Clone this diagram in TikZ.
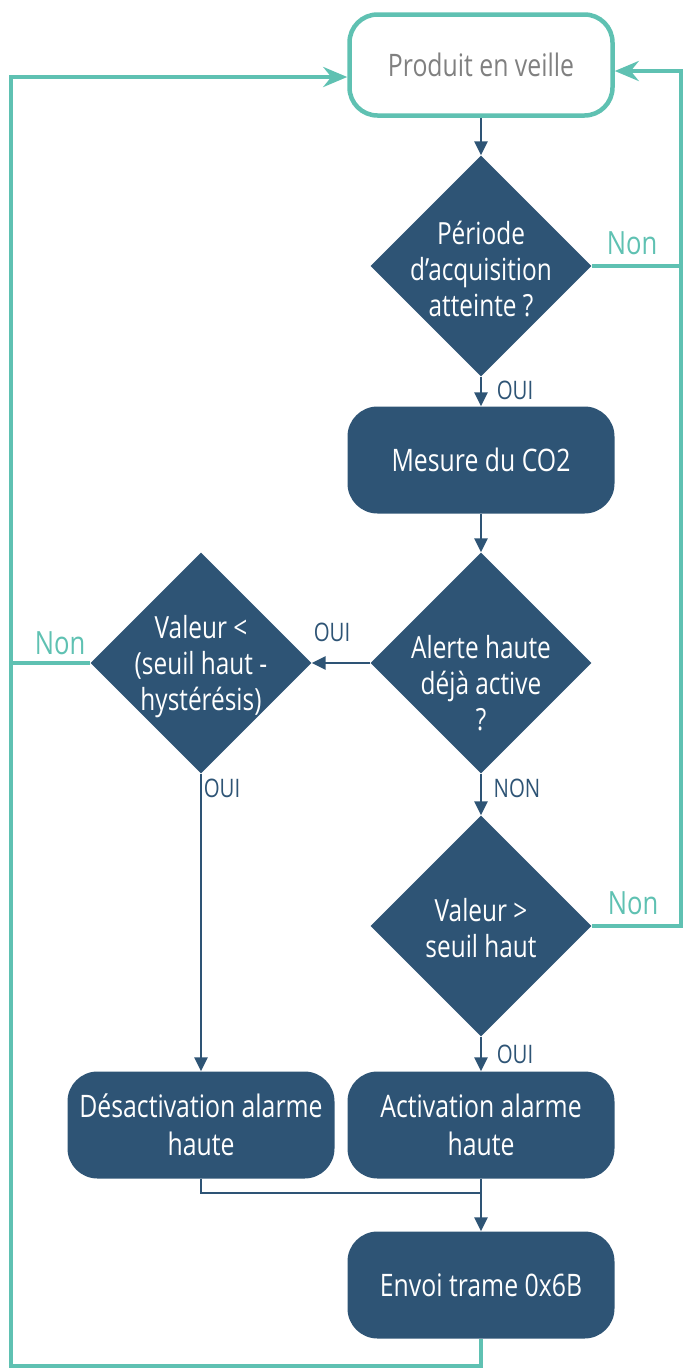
\documentclass[tikz,border=0pt]{standalone}
\usepackage{fontspec}
\setmainfont{Open Sans}[FakeStretch=0.8]
\usetikzlibrary{shapes.geometric,arrows.meta}
\definecolor{teal1}{HTML}{5FC1B2}
\definecolor{navy}{HTML}{2E5475}
\definecolor{grey1}{HTML}{808080}
\begin{document}
\begin{tikzpicture}[x=1pt,y=-1pt,
  box/.style={rectangle, rounded corners=30pt, minimum width=267pt, minimum height=107pt,
    fill=navy, text=white, font=\fontsize{31}{38}\selectfont, align=center, inner sep=0pt},
  startbox/.style={rectangle, rounded corners=28pt, minimum width=263pt, minimum height=101pt,
    draw=teal1, line width=4.5pt, fill=white, text=grey1, font=\fontsize{31}{38}\selectfont, inner sep=0pt},
  dia/.style={diamond, aspect=1, fill=navy, minimum width=221pt, minimum height=221pt, inner sep=0pt},
  dtext/.style={text=white, font=\fontsize{30.5}{36}\selectfont, align=center, inner sep=0pt},
  flow/.style={draw=navy, line width=2.5pt, -{Triangle[length=14pt,width=13pt]}},
  plain/.style={draw=navy, line width=2.5pt},
  loop/.style={draw=teal1, line width=4pt},
  looparrow/.style={loop, -{Stealth[length=24pt,width=20pt,inset=8pt]}},
  oui/.style={text=navy, font=\fontsize{25.5}{28}\selectfont, inner sep=0pt},
  non/.style={text=teal1, font=\fontsize{32}{34}\selectfont, inner sep=0pt}
]
\useasboundingbox (0,0) rectangle (683,1369);

% nodes
\node[startbox] (p) at (481,65) {Produit en veille};
\node[dia] (d1) at (481,266) {};
\node[dtext] (t1) at (481,269) {Période\\d’acquisition\\atteinte ?};
\node[box] (m) at (481,460) {Mesure du CO2};
\node[dia] (d2) at (481,663) {};
\node[dtext] (t2) at (481,683) {Alerte haute\\déjà active\\?};
\node[dia] (d3) at (201,663) {};
\node[dtext] (t3) at (201,667) {Valeur <\\(seuil haut -\\hystérésis)};
\node[dia] (d4) at (481,926) {};
\node[dtext] (t4) at (481,928) {Valeur >\\seuil haut};
\node[box] (act) at (481,1125) {Activation alarme\\haute};
\node[box] (des) at (201,1125) {Désactivation alarme\\haute};
\node[box] (env) at (481,1285) {Envoi trame 0x6B};

% dark connectors
\draw[flow] (p.south) -- (d1.north);
\draw[flow] (d1.south) -- (m.north);
\draw[flow] (m.south) -- (d2.north);
\draw[flow] (d2.west) -- (d3.east);
\draw[flow] (d2.south) -- (d4.north);
\draw[flow] (d4.south) -- (act.north);
\draw[flow] (d3.south) -- (des.north);
\coordinate (mrg) at (481,1193);
\draw[plain] (des.south) |- (mrg);
\draw[flow] (act.south) -- (env.north);

% teal loops
\coordinate (cBL) at (11,1366);
\coordinate (cTL) at (11,77);
\coordinate (cTR) at (681,71);
\coordinate (cR1) at (681,268);
\draw[looparrow] (env.south) |- (cBL) -- (cTL) -- (cTL -| p.west);
\draw[looparrow] (d1.east) -| (cTR) -- (cTR -| p.east);
\draw[loop] (d4.east) -| (cR1);
\draw[loop] (d3.west) -- (d3.west -| cTL);

% labels
\node[oui] (l1) at (515,390) {OUI};
\node[oui] (l2) at (332,632) {OUI};
\node[oui] (l3) at (517,788) {NON};
\node[oui] (l4) at (222,788) {OUI};
\node[oui] (l5) at (515,1054) {OUI};
\node[non] (n1) at (632,243) {Non};
\node[non] (n2) at (633,903) {Non};
\node[non] (n3) at (60,643) {Non};
\end{tikzpicture}
\end{document}
